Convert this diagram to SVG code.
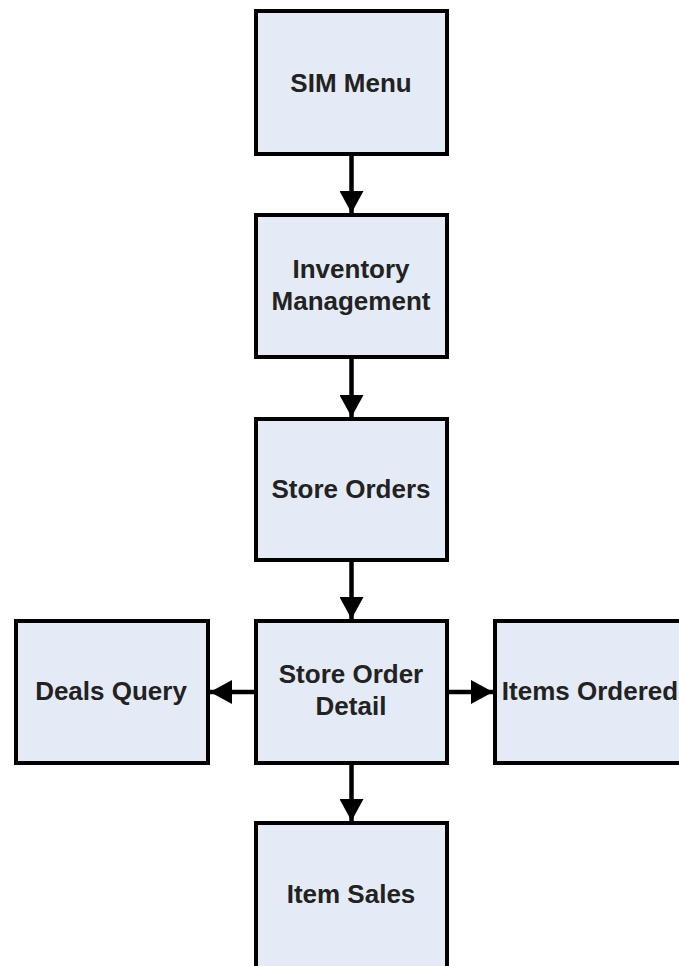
<svg xmlns="http://www.w3.org/2000/svg" width="679" height="966" viewBox="0 0 679 966">
  <style>
    .box { fill: #e5ebf6; stroke: #000; stroke-width: 4; }
    .label { font-family: "Liberation Sans", Arial, sans-serif; font-weight: bold; font-size: 26px; fill: #222; text-anchor: middle; }
    .edge { stroke: #000; stroke-width: 4.5; fill: none; marker-end: url(#arrow); }
  </style>
  <defs>
    <marker id="arrow" markerUnits="userSpaceOnUse" markerWidth="22" markerHeight="24" refX="22" refY="12" orient="auto">
      <path d="M0,0 L22,12 L0,24 Z" fill="#000"/>
    </marker>
  </defs>
  <rect width="679" height="966" fill="#fff"/>

  <g id="connectors">
    <line class="edge" x1="351.5" y1="156" x2="351.5" y2="213"/>
    <line class="edge" x1="351.5" y1="359" x2="351.5" y2="417"/>
    <line class="edge" x1="351.5" y1="562" x2="351.5" y2="619"/>
    <line class="edge" x1="254" y1="692" x2="210" y2="692"/>
    <line class="edge" x1="449" y1="692" x2="493" y2="692"/>
    <line class="edge" x1="351.5" y1="765" x2="351.5" y2="821"/>
  </g>

  <g id="sim-menu">
    <rect class="box" x="256" y="11" width="191" height="143"/>
    <text class="label" x="351" y="92">SIM Menu</text>
  </g>
  <g id="inventory-management">
    <rect class="box" x="256" y="215" width="191" height="142"/>
    <text class="label" x="351" y="278">Inventory</text>
    <text class="label" x="351" y="310">Management</text>
  </g>
  <g id="store-orders">
    <rect class="box" x="256" y="419" width="191" height="141"/>
    <text class="label" x="351" y="498">Store Orders</text>
  </g>
  <g id="store-order-detail">
    <rect class="box" x="256" y="621" width="191" height="142"/>
    <text class="label" x="351" y="683">Store Order</text>
    <text class="label" x="351" y="715">Detail</text>
  </g>
  <g id="deals-query">
    <rect class="box" x="16" y="621" width="192" height="142"/>
    <text class="label" x="111" y="700">Deals Query</text>
  </g>
  <g id="items-ordered">
    <rect class="box" x="495" y="621" width="191" height="142"/>
    <text class="label" x="590" y="700">Items Ordered</text>
  </g>
  <g id="item-sales">
    <rect class="box" x="256" y="823" width="191" height="150"/>
    <text class="label" x="351" y="903">Item Sales</text>
  </g>
</svg>
